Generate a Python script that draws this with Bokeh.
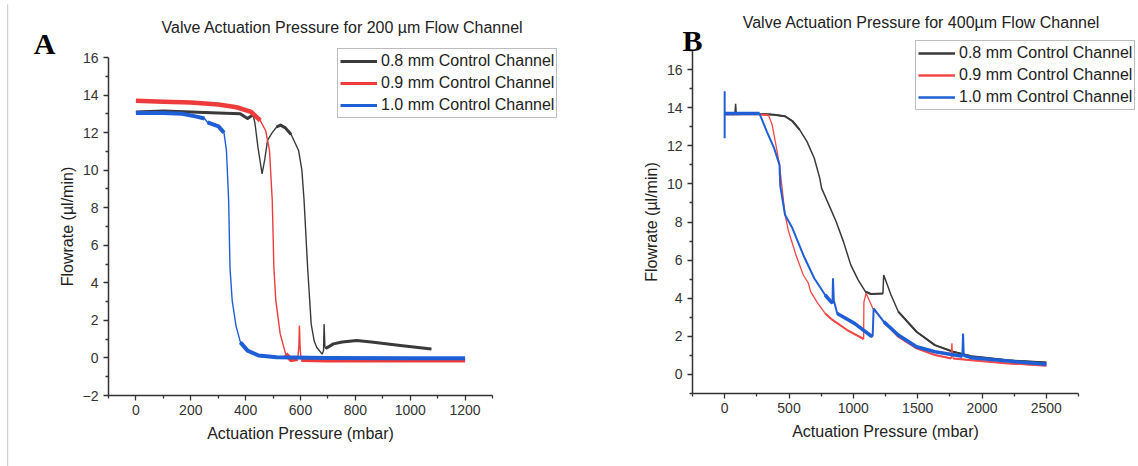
from bokeh.plotting import figure
from bokeh.models import Range1d, FixedTicker, Label, Legend, LegendItem, BoxAnnotation
from bokeh.layouts import row
from bokeh.embed import file_html
from bokeh.resources import INLINE

# ---------------- data ----------------
series_labels = ["0.8 mm Control Channel", "0.9 mm Control Channel", "1.0 mm Control Channel"]

# Panel A: 200 um flow channel
a08_x = [0, 100, 200, 300, 380, 407, 427, 434, 445, 460, 470, 480, 497, 513, 527, 545, 566, 593, 605,
         613, 626, 639, 650, 659, 679, 684, 686, 689, 692, 720, 752, 805, 858, 964, 1077]
a08_y = [13.1, 13.15, 13.1, 13.05, 13.0, 12.75, 12.95, 12.5, 11.2, 9.8, 10.6, 11.6, 12.0, 12.3, 12.4,
         12.25, 11.9, 11.05, 10.0, 8.4, 4.8, 1.8, 0.9, 0.57, 0.2, 0.4, 1.8, 0.6, 0.5, 0.75, 0.85, 0.93,
         0.85, 0.66, 0.48]
a09_x = [0, 100, 200, 301, 367, 420, 453, 473, 487, 497, 503, 510, 526, 546, 566, 590, 594, 596, 599,
         603, 700, 900, 1200]
a09_y = [13.7, 13.65, 13.6, 13.5, 13.35, 13.1, 12.65, 12.1, 11.05, 8.4, 4.8, 3.05, 1.28, 0.2, -0.1,
         -0.05, 0.6, 1.72, 0.4, -0.1, -0.12, -0.12, -0.12]
a10_x = [0, 100, 168, 221, 250, 261, 301, 321, 330, 338, 343, 351, 365, 381, 407, 447, 513, 700, 1000, 1200]
a10_y = [13.05, 13.05, 13.0, 12.85, 12.75, 12.55, 12.33, 12.0, 11.05, 8.4, 4.8, 3.05, 1.7, 0.83, 0.39,
         0.13, 0.04, 0.0, -0.02, -0.02]

# Panel B: 400 um flow channel
b08_x = [0, 80, 85, 90, 200, 384, 469, 526, 582, 639, 696, 739, 753, 810, 866, 923, 980, 1037, 1094,
         1136, 1230, 1236, 1293, 1349, 1491, 1634, 1776, 1918, 2202, 2500]
b08_y = [13.65, 13.65, 14.2, 13.65, 13.7, 13.63, 13.55, 13.3, 12.85, 12.23, 11.36, 10.3, 9.78, 8.9,
         8.03, 6.97, 5.75, 4.96, 4.35, 4.22, 4.25, 5.22, 4.17, 3.3, 2.24, 1.54, 1.19, 0.96, 0.74, 0.63]
b09_x = [0, 100, 270, 341, 369, 398, 426, 455, 469, 497, 554, 611, 650, 668, 724, 781, 838, 952, 1080,
         1082, 1099, 1151, 1236, 1349, 1491, 1634, 1761, 1766, 1770, 1776, 1918, 2202, 2500]
b09_y = [13.65, 13.65, 13.65, 13.6, 13.1, 12.06, 11.0, 9.25, 8.38, 7.5, 6.27, 5.22, 4.8, 4.35, 3.73,
         3.2, 2.86, 2.33, 1.86, 3.8, 4.26, 3.47, 2.77, 1.98, 1.37, 1.02, 0.84, 1.63, 1.1, 0.84, 0.75,
         0.58, 0.46]
b10_x = [0, 0, 0, 100, 270, 327, 384, 426, 432, 469, 526, 611, 696, 781, 838, 842, 848, 875, 895, 1009,
         1136, 1150, 1158, 1236, 1349, 1491, 1634, 1847, 1853, 1858, 1918, 2202, 2500]
b10_y = [14.86, 12.4, 13.7, 13.7, 13.7, 12.76, 11.88, 11.0, 9.9, 8.38, 7.68, 6.27, 5.05, 4.17, 3.73,
         5.05, 3.9, 3.2, 3.12, 2.68, 2.03, 2.0, 3.47, 2.77, 2.07, 1.45, 1.19, 0.96, 2.15, 1.0, 0.88, 0.7, 0.53]

a_xticks = [0, 200, 400, 600, 800, 1000, 1200]
a_yticks = [-2, 0, 2, 4, 6, 8, 10, 12, 14, 16]
b_xticks = [0, 500, 1000, 1500, 2000, 2500]
b_yticks = [0, 2, 4, 6, 8, 10, 12, 14, 16]

FONT = "Liberation Sans"
BLACK, RED, BLUE = "#3a3a3a", "#ee3b3b", "#1f5fd5"
H = 466


def flat_runs(xs, ys, sx, sy, ratio=1.2):
    runs, cur = [], None
    for i in range(len(xs) - 1):
        dx = abs(xs[i + 1] - xs[i]) * sx
        dy = abs(ys[i + 1] - ys[i]) * sy
        if dy <= ratio * dx:
            if cur is None:
                cur = ([xs[i]], [ys[i]])
            cur[0].append(xs[i + 1])
            cur[1].append(ys[i + 1])
        else:
            if cur:
                runs.append(cur)
            cur = None
    if cur:
        runs.append(cur)
    return [r[0] for r in runs], [r[1] for r in runs]


def make_fig(width, xb, yb, box, xticks, xminor, yticks, yminor):
    # box = pixel position of the axes box inside the figure: left, right, top, bottom
    l, r, t, b = box
    sx = (r - l) / (xb[1] - xb[0])
    sy = (b - t) / (yb[1] - yb[0])
    xr = (xb[0] - l / sx, xb[1] + (width - r) / sx)
    yr = (yb[0] - (H - b) / sy, yb[1] + t / sy)
    p = figure(width=width, height=H, x_range=Range1d(*xr), y_range=Range1d(*yr),
               output_backend="svg", toolbar_location=None, title=None,
               min_border=0, min_border_left=0, min_border_right=0, min_border_top=0,
               min_border_bottom=0)
    p.xgrid.visible = False
    p.ygrid.visible = False
    p.outline_line_color = None
    p.background_fill_color = "white"
    p.border_fill_color = "white"
    p.xaxis.fixed_location = yb[0]
    p.yaxis.fixed_location = xb[0]
    p.xaxis.bounds = xb
    p.yaxis.bounds = yb
    p.xaxis.ticker = FixedTicker(ticks=xticks, minor_ticks=xminor)
    p.yaxis.ticker = FixedTicker(ticks=yticks, minor_ticks=yminor)
    for ax in (p.xaxis[0], p.yaxis[0]):
        ax.axis_line_color = "#333333"
        ax.axis_line_width = 1.5
        ax.major_tick_line_color = "#333333"
        ax.major_tick_line_width = 1.3
        ax.minor_tick_line_color = "#333333"
        ax.minor_tick_line_width = 1.3
        ax.major_tick_in = 0
        ax.major_tick_out = 5
        ax.minor_tick_in = 0
        ax.minor_tick_out = 3
        ax.major_label_text_font = FONT
        ax.major_label_text_font_size = "14px"
        ax.major_label_text_color = "#333333"
        ax.axis_label_text_font = FONT
        ax.axis_label_text_font_size = "16px"
        ax.axis_label_text_font_style = "normal"
        ax.axis_label_text_color = "#222222"
    p.xaxis.major_label_standoff = 4
    p.xaxis.axis_label_standoff = 7
    p.yaxis.major_label_standoff = 5
    p.yaxis.axis_label_standoff = 4
    p.xaxis.axis_label = "Actuation Pressure (mbar)"
    p.yaxis.axis_label = "Flowrate (\u00b5l/min)"
    return p, sx, sy, xr, yr


def draw(p, data, sx, sy, base_w, thick_w, colors, legend_w, xr, yr):
    items = []
    # legend proxies: a short line placed outside the visible ranges
    px = [xr[0] - 20, xr[0] - 10]
    py = [yr[0] - 5, yr[0] - 5]
    for (xs, ys), c, bw, tw, lab in zip(data, colors, base_w, thick_w, series_labels):
        p.line(xs, ys, line_color=c, line_width=bw)
        mx, my = flat_runs(xs, ys, sx, sy)
        p.multi_line(mx, my, line_color=c, line_width=tw, line_join="round")
        proxy = p.line(px, py, line_color=c, line_width=legend_w)
        items.append(LegendItem(label=lab, renderers=[proxy]))
    return items


def add_legend(p, items, left, top):
    # left/top in pixels from the figure's top-left corner; legend height is ~68px
    leg = Legend(items=items, location=(left, H - top - 68), border_line_color="#7a7a7a",
                 border_line_width=1.5, background_fill_color="white", background_fill_alpha=1.0,
                 padding=2, spacing=2, label_height=20, glyph_height=20, glyph_width=37,
                 label_standoff=4, margin=0, label_text_font=FONT, label_text_font_size="16px",
                 label_text_color="#222222")
    p.add_layout(leg)


def add_text(p, text, cx, cy, font, size, style="normal", color="#222222"):
    p.add_layout(Label(x=cx, y=H - cy, x_units="screen", y_units="screen", text=text,
                       text_align="center", text_baseline="middle", text_font=font,
                       text_font_style=style, text_font_size=size, text_color=color))


# ---------------- panel A ----------------
pA, sxA, syA, xrA, yrA = make_fig(570, (-100, 1300), (-2, 16), (108, 492, 57, 395),
                                  a_xticks, list(range(-100, 1400, 200)),
                                  a_yticks, list(range(-1, 17, 2)))
itemsA = draw(pA, [(a08_x, a08_y), (a09_x, a09_y), (a10_x, a10_y)], sxA, syA,
              [1.4, 1.4, 1.4], [3.0, 4.5, 4.0], [BLACK, RED, BLUE], 3, xrA, yrA)
add_legend(pA, itemsA, 337, 50)
add_text(pA, "Valve Actuation Pressure for 200 \u00b5m Flow Channel", 342, 27, FONT, "16px")
add_text(pA, "A", 44, 43, "Liberation Serif", "30px", "bold", "black")
pA.add_layout(BoxAnnotation(left=6.5, right=7.7, bottom=0, top=H - 4,
                            left_units="screen", right_units="screen",
                            bottom_units="screen", top_units="screen",
                            fill_color="#cfcfcf", fill_alpha=1.0, line_color=None))

# ---------------- panel B ----------------
pB, sxB, syB, xrB, yrB = make_fig(568, (-250, 2750), (-1, 17), (122, 508, 50, 393),
                                  b_xticks, list(range(-250, 3000, 500)),
                                  b_yticks, list(range(-1, 18, 2)))
itemsB = draw(pB, [(b08_x, b08_y), (b09_x, b09_y), (b10_x, b10_y)], sxB, syB,
              [1.5, 1.3, 2.0], [2.0, 2.0, 3.5], [BLACK, "#f24848", BLUE], 2.5, xrB, yrB)
add_legend(pB, itemsB, 345, 42)
add_text(pB, "Valve Actuation Pressure for 400\u00b5m Flow Channel", 351, 22, FONT, "16px")
add_text(pB, "B", 122, 40, "Liberation Serif", "30px", "bold", "black")

layout = row(pA, pB)
open("out.html", "w").write(file_html(layout, INLINE))
